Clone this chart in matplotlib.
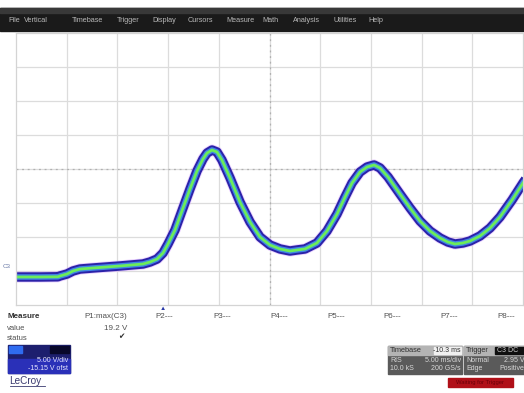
import matplotlib.pyplot as plt
from matplotlib.patches import Rectangle

plt.rcParams['font.family'] = ['Liberation Sans', 'DejaVu Sans']

# scope settings (from the screen readout)
VOLTS_PER_DIV = 5.0
OFFSET = 15.15      # V shown at screen centre
MS_PER_DIV = 5.0

# C3 trace: time (ms) and voltage (V)
time_ms = [0.0, 2.37, 4.14, 4.34, 5.03, 5.62, 6.31, 7.59, 10.26, 12.52,
           13.21, 13.91, 14.50, 14.99, 15.68, 16.47, 17.16, 17.85, 18.44,
           18.84, 19.33, 19.82, 20.31, 21.11, 22.09, 23.08, 24.06, 25.05,
           26.04, 27.02, 27.71, 28.50, 29.68, 30.67, 31.66, 32.45, 33.14,
           33.93, 34.62, 35.31, 35.90, 36.69, 37.87, 38.86, 39.84, 40.83,
           41.82, 42.60, 43.29, 44.08, 44.77, 45.76, 46.75, 47.73, 48.92, 50.0]
volts = [-0.73, -0.73, -0.70, -0.58, -0.29, 0.15, 0.44, 0.59, 0.89, 1.18,
         1.47, 1.91, 2.80, 4.12, 6.18, 9.41, 12.21, 14.86, 16.62,
         17.50, 17.94, 17.65, 16.47, 13.83, 10.30, 7.36, 5.15, 3.97,
         3.39, 3.09, 3.24, 3.39, 4.27, 6.03, 8.53, 11.03, 13.09,
         14.71, 15.44, 15.74, 15.30, 13.97, 11.47, 9.41, 7.50, 6.03,
         5.00, 4.41, 4.12, 4.27, 4.56, 5.30, 6.47, 8.09, 10.59, 13.09]

menu_items = ["File", "Vertical", "Timebase", "Trigger", "Display", "Cursors",
              "Measure", "Math", "Analysis", "Utilities", "Help"]
menu_x = [8, 24, 72, 117, 152, 188, 226, 262, 293, 333, 368]

param_labels = ["P2---", "P3---", "P4---", "P5---", "P6---", "P7---", "P8---"]
param_x = [155, 213, 270, 327, 383, 440, 497]

W, H = 524, 393
fig = plt.figure(figsize=(W / 100, H / 100), dpi=100)
bg = fig.add_axes([0, 0, 1, 1])
bg.set_xlim(0, W)
bg.set_ylim(H, 0)
bg.axis('off')

# menu bar
bg.add_patch(Rectangle((0, 8), W, 23, color='#1a1a1a'))
bg.add_patch(Rectangle((0, 8), W, 5, color='#383838'))
for name, x in zip(menu_items, menu_x):
    bg.text(x, 20, name, color='#b8b8b8', fontsize=5.2, va='center')

# scope grid
ax = fig.add_axes([16 / W, 1 - 305 / H, 507 / W, 272 / H])
ax.set_xlim(0, 10 * MS_PER_DIV)
ax.set_ylim(OFFSET - 4 * VOLTS_PER_DIV, OFFSET + 4 * VOLTS_PER_DIV)
for i in range(1, 10):
    ax.axvline(i * MS_PER_DIV, color='#dcdcdc', lw=0.9, zorder=0)
for j in range(1, 8):
    ax.axhline(OFFSET + (j - 4) * VOLTS_PER_DIV, color='#dcdcdc', lw=0.9, zorder=0)
ax.axhline(OFFSET, color='#b0b0b0', lw=0.9, ls=(0, (1.5, 3)), zorder=0)
ax.axvline(5 * MS_PER_DIV, color='#b0b0b0', lw=0.9, ls=(0, (1.5, 3)), zorder=0)
ax.set_xticks([])
ax.set_yticks([])
for s in ax.spines.values():
    s.set_color('#d4d4d4')
    s.set_linewidth(0.9)

ax.plot(time_ms, volts, color='#d9a8ff', lw=8, solid_joinstyle='round',
        solid_capstyle='round', alpha=0.55)
ax.plot(time_ms, volts, color='#2a22a8', lw=6.8, solid_joinstyle='round')
ax.plot(time_ms, volts, color='#3f86e6', lw=4.0, solid_joinstyle='round')
ax.plot(time_ms, volts, color='#6cec5a', lw=2.0, solid_joinstyle='round')

# channel marker
bg.text(3, 267, "C3", color='#6a7aa8', fontsize=4.5, va='center')
# trigger position marker
bg.text(163, 308, "\u25B2", color='#2a3aa8', fontsize=4.5, ha='center', va='center')

# measure table
bg.text(7, 317, "Measure", fontsize=5.8, weight='bold', color='#303030', va='center')
bg.text(7, 328, "value", fontsize=5.5, color='#505050', va='center')
bg.text(7, 338, "status", fontsize=5.5, color='#505050', va='center')
bg.text(127, 317, "P1:max(C3)", fontsize=5.8, color='#505050', va='center', ha='right')
bg.text(127, 328, "19.2 V", fontsize=5.8, color='#505050', va='center', ha='right')
bg.text(124, 338, "\u2714", fontsize=5.5, color='#303030', va='center', ha='right')
for lab, x in zip(param_labels, param_x):
    bg.text(x, 317, lab, fontsize=5.8, color='#505050', va='center')

# channel descriptor box
bg.add_patch(Rectangle((8, 345), 62, 28, color='#1d1f6e'))
bg.add_patch(Rectangle((8, 359), 62, 14, color='#2a30b8'))
bg.add_patch(Rectangle((9, 346), 13, 7, color='#2f6cf0'))
bg.add_patch(Rectangle((50, 346), 19, 7, color='#08082a'))
bg.text(68, 361, "5.00 V/div", fontsize=5, color='#e8e8ff', ha='right', va='center')
bg.text(68, 369, "-15.15 V ofst", fontsize=5, color='#e8e8ff', ha='right', va='center')
bg.text(9, 381, "LeCroy", fontsize=7.2, color='#3a3a70', va='center')
bg.plot([10, 45], [386, 386], color='#3a3a70', lw=0.6)

# timebase box
bg.add_patch(Rectangle((388, 346), 74, 28, color='#5a5a5a'))
bg.add_patch(Rectangle((388, 346), 74, 9, color='#b4b4b4'))
bg.add_patch(Rectangle((434, 347), 27, 7, color='#f0f0f0'))
bg.text(390, 350.5, "Timebase", fontsize=5.3, color='#303030', va='center')
bg.text(461, 350.5, "-10.3 ms", fontsize=5, color='#303030', va='center', ha='right')
bg.text(390, 360, "RIS", fontsize=5, color='#d8d8d8', va='center')
bg.text(461, 360, "5.00 ms/div", fontsize=5, color='#d8d8d8', va='center', ha='right')
bg.text(390, 368.5, "10.0 kS", fontsize=5, color='#d8d8d8', va='center')
bg.text(461, 368.5, "200 GS/s", fontsize=5, color='#d8d8d8', va='center', ha='right')

# trigger box
bg.add_patch(Rectangle((464, 346), 60, 28, color='#5a5a5a'))
bg.add_patch(Rectangle((464, 346), 60, 9, color='#b4b4b4'))
bg.add_patch(Rectangle((495, 347), 29, 7, color='#101010'))
bg.text(466, 350.5, "Trigger", fontsize=5.3, color='#303030', va='center')
bg.text(497, 350.5, "C3 DC", fontsize=5, color='#d0d0d0', va='center')
bg.text(466, 360, "Normal", fontsize=5, color='#d8d8d8', va='center')
bg.text(524, 360, "2.95 V", fontsize=5, color='#d8d8d8', va='center', ha='right')
bg.text(466, 368.5, "Edge", fontsize=5, color='#d8d8d8', va='center')
bg.text(524, 368.5, "Positive", fontsize=5, color='#d8d8d8', va='center', ha='right')

# status box
bg.add_patch(Rectangle((448, 378), 65, 9, color='#b01018'))
bg.text(480, 382.5, "Waiting for Trigger", fontsize=4.2, color='#6a0008', ha='center', va='center')

fig.savefig("out.png", dpi=100)
